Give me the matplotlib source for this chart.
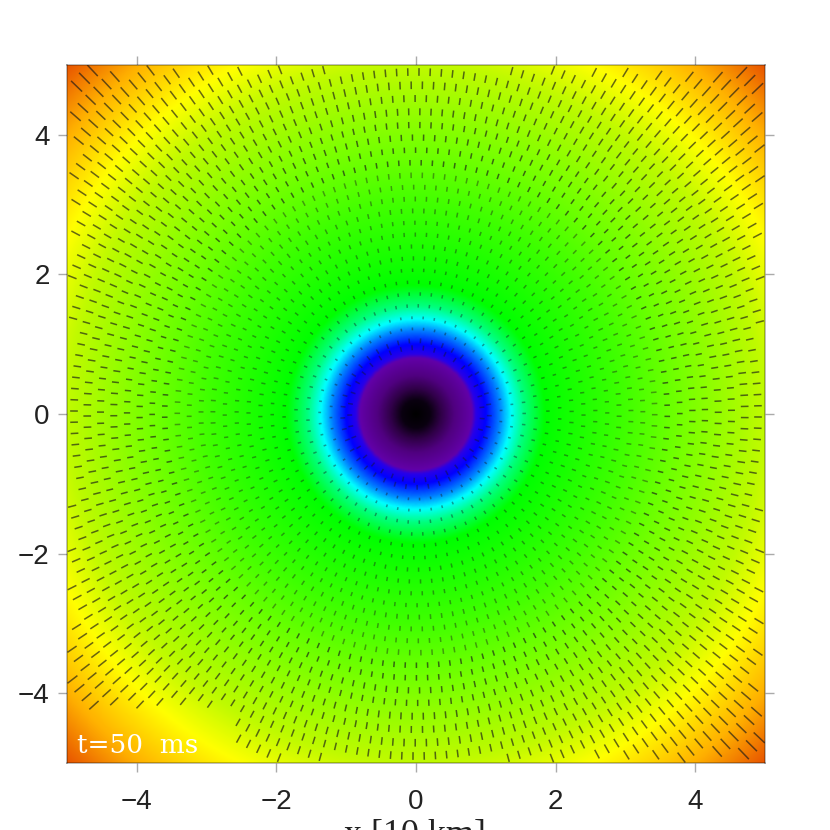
import numpy as np
import matplotlib
matplotlib.use("Agg")
import matplotlib.pyplot as plt
from matplotlib.colors import LinearSegmentedColormap

# colour along the radius (radius in 10 km)
stop_r = [0.0, 0.20, 0.36, 0.55, 0.80, 0.86, 1.00, 1.20, 1.36, 1.55, 1.85, 3.00, 4.00, 5.00, 5.60, 6.40, 7.08]
stop_col = ["#000000", "#0a0010", "#300048", "#500080", "#6200a8", "#2800e8", "#0000ff", "#0080ff",
            "#00ffff", "#00ff80", "#00ff00", "#40ff00", "#80ff00", "#c0fa00", "#ffff00", "#ffb000", "#e85400"]

# rings of dashes and the dash length on each ring
ring_r = [0.95, 1.05, 1.22, 1.38, 1.55, 1.72, 1.89, 2.06, 2.23, 2.40, 2.57, 2.74, 2.91, 3.08, 3.25,
          3.42, 3.60, 3.78, 3.96, 4.14, 4.33, 4.52, 4.71, 4.90, 5.10, 5.30, 5.52, 5.74, 5.97, 6.22, 6.48, 6.76]
ring_len = [0.07, 0.07, 0.04, 0.04, 0.05, 0.05, 0.05, 0.05, 0.06, 0.06, 0.06, 0.06, 0.07, 0.07, 0.07,
            0.08, 0.08, 0.08, 0.09, 0.09, 0.10, 0.10, 0.11, 0.11, 0.12, 0.13, 0.14, 0.15, 0.16, 0.18, 0.20, 0.22]
dash_gap = 0.16

ticks = [-4, -2, 0, 2, 4]
time_label = "t=50  ms"
x_label = "x [10 km]"

fig = plt.figure(figsize=(8.3, 8.3), dpi=100)
ax = fig.add_axes([67 / 830, 1 - 763 / 830, 698 / 830, 698 / 830])

# background
g = np.linspace(-5, 5, 500)
xx, yy = np.meshgrid(g, g)
rr = np.sqrt(xx**2 + yy**2)
cmap = LinearSegmentedColormap.from_list("rad", [(r / stop_r[-1], c) for r, c in zip(stop_r, stop_col)], N=1024)
ax.imshow(rr, extent=(-5, 5, -5, 5), origin="lower", cmap=cmap, vmin=0, vmax=stop_r[-1], interpolation="bilinear")

# radial dashes
for r, l in zip(ring_r, ring_len):
    n = int(round(2 * np.pi * r / dash_gap))
    th = np.arange(n) * 2 * np.pi / n + r
    px, py = r * np.cos(th), r * np.sin(th)
    keep = (abs(px) < 4.93) & (abs(py) < 4.93) & ~((px < -2.55) & (py < -4.2))
    alpha = 0.65 if r > 3.5 else 0.42
    ax.quiver(px[keep] - l / 2 * np.cos(th[keep]), py[keep] - l / 2 * np.sin(th[keep]),
              l * np.cos(th[keep]), l * np.sin(th[keep]),
              angles="xy", scale_units="xy", scale=1, width=0.0022,
              headwidth=0, headlength=0, headaxislength=0, color="#181818", alpha=alpha, zorder=3)

ax.set_xlim(-5, 5)
ax.set_ylim(-5, 5)
ax.set_xticks(ticks)
ax.set_yticks(ticks)
ax.tick_params(axis="both", direction="out", length=6.5, width=1, color="#aaaaaa", top=True, right=True,
               labelsize=20, labelcolor="#222222")
ax.tick_params(axis="x", pad=12)
ax.tick_params(axis="y", pad=6)
for label in ax.get_xticklabels() + ax.get_yticklabels():
    label.set_family("Liberation Sans")
for s in ax.spines.values():
    s.set_color("#000000")
    s.set_alpha(0.3)
    s.set_linewidth(1.2)

fig.text(77 / 830, 1 - 753 / 830, time_label, color="white", fontsize=19, family="DejaVu Serif", zorder=5)
fig.text(415 / 830, 1 - 819 / 830, x_label, ha="center", va="top", fontsize=26, color="#222222",
         family="Liberation Serif")

plt.savefig("out.png", dpi=100)
